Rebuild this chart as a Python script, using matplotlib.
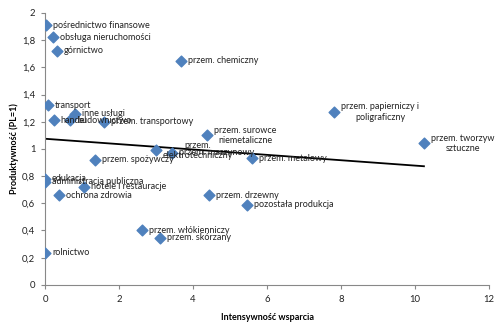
import numpy as np
from matplotlib import pyplot as plt

plt.rcParams['font.family'] = ['Lato', 'DejaVu Sans']

sectors = ["pośrednictwo finansowe", "obsługa nieruchomości", "górnictwo",
           "przem. chemiczny", "transport", "inne usługi", "handel", "budownictwo",
           "przem. transportowy", "przem. surowce\nniemetaliczne",
           "przem. papierniczy i\npoligraficzny", "przem. tworzyw\nsztuczne",
           "przem.\nelektrotechniczny", "przem. maszynowy", "przem. metalowy",
           "przem. spożywczy", "edukacja", "administracja publiczna",
           "hotele i restauracje", "ochrona zdrowia", "przem. drzewny",
           "pozostała produkcja", "przem. włókienniczy", "przem. skórzany",
           "rolnictwo"]
support = [0.03, 0.22, 0.32, 3.68, 0.08, 0.81, 0.24, 0.68, 1.6, 4.38,
           7.81, 10.24, 3.0, 3.43, 5.6, 1.35, 0.0, 0.0, 1.05, 0.38, 4.43,
           5.46, 2.62, 3.11, 0.0]
productivity = [1.91, 1.82, 1.72, 1.65, 1.32, 1.26, 1.21, 1.21, 1.2, 1.1,
                1.27, 1.04, 0.99, 0.97, 0.93, 0.92, 0.78, 0.76, 0.72, 0.66,
                0.66, 0.59, 0.40, 0.345, 0.235]
y_ticks = ["0", "0,2", "0,4", "0,6", "0,8", "1", "1,2", "1,4", "1,6", "1,8", "2"]

x = np.array(support)
y = np.array(productivity)

fig = plt.figure(figsize=(4.95, 3.23), dpi=100)
ax = fig.add_axes([0.091, 0.118, 0.897, 0.842])

ax.scatter(x, y, marker="D", s=30, color="#4F81BD", zorder=3)
for name, xi, yi in zip(sectors, x, y):
    ax.annotate(name, (xi, yi), xytext=(5, 0), textcoords="offset points",
                ha="left", va="center", multialignment="center",
                fontsize=6.5, color="#222222", zorder=4)

# liniowy trend jak w Excelu
a, b = np.polyfit(x, y, 1)
xt = np.array([x.min(), x.max()])
ax.plot(xt, a * xt + b, color="black", lw=1.3, zorder=2)

ax.set_xlim(0, 12)
ax.set_ylim(0, 2)
ax.set_xticks(range(0, 13, 2))
ax.set_yticks(np.linspace(0, 2, 11))
ax.set_yticklabels(y_ticks)
ax.tick_params(labelsize=6.8, color="#888888", labelcolor="#222222", length=3, pad=4)
for s in ("top", "right"):
    ax.spines[s].set_visible(False)
for s in ("left", "bottom"):
    ax.spines[s].set_color("#888888")
ax.set_xlabel("Intensywność wsparcia", fontsize=6.5, fontweight="bold", labelpad=7)
ax.set_ylabel("Produktywność (PL=1)", fontsize=6.5, fontweight="bold", labelpad=2)

fig.savefig("out.png", dpi=100)
